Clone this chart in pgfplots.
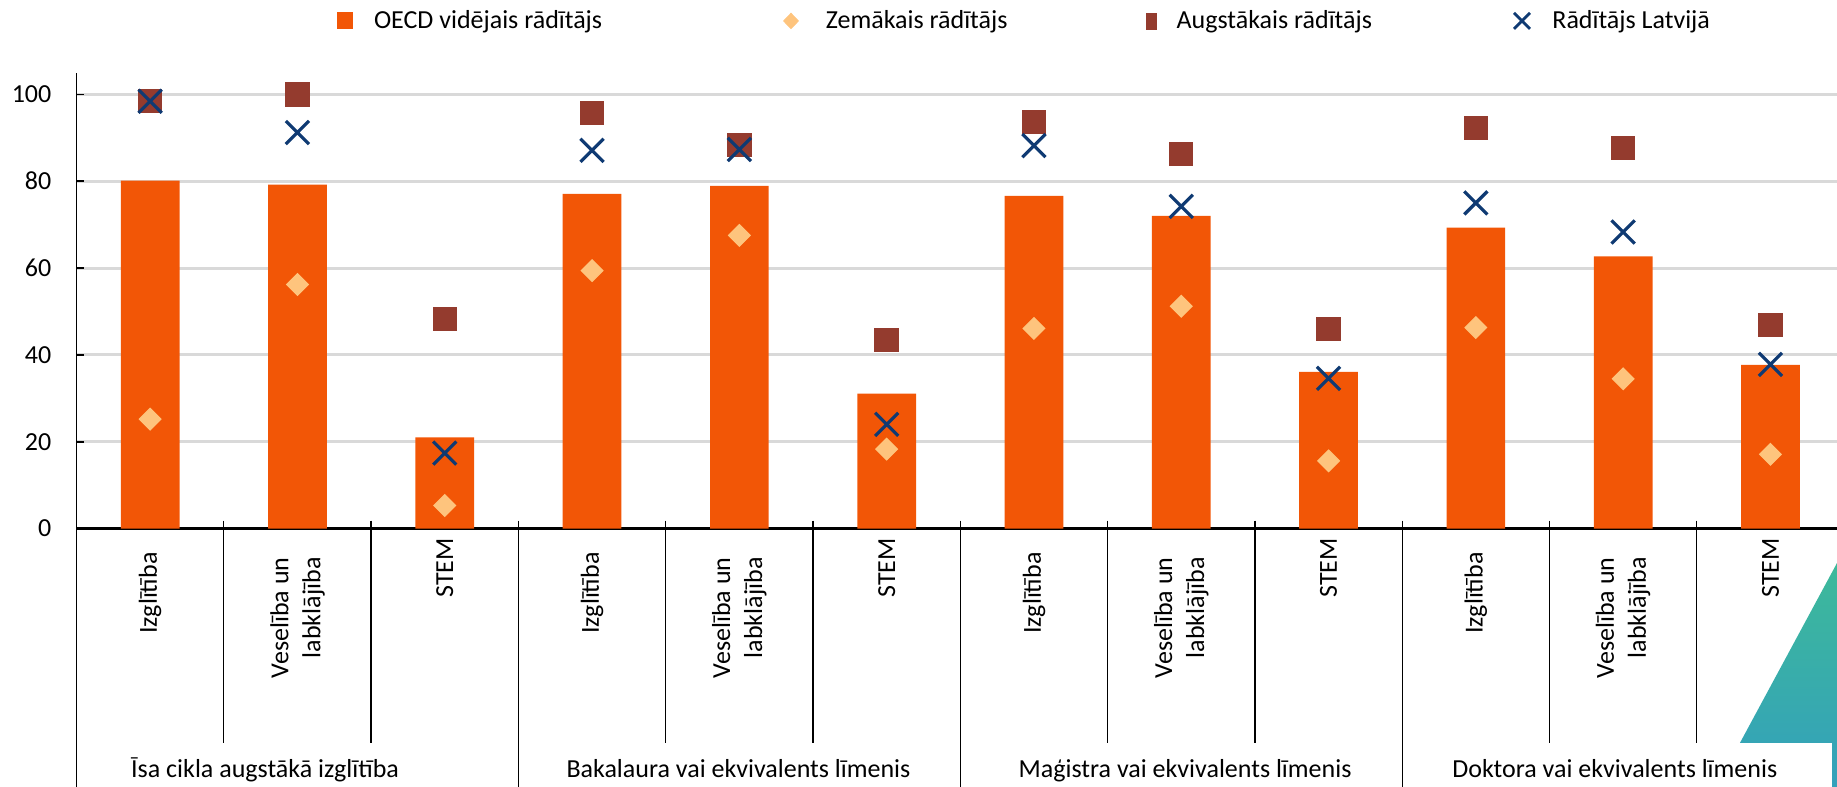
\documentclass[border=0pt]{standalone}
\usepackage{pgfplots}
\usepackage{pgfplotstable}
\pgfplotsset{compat=1.18}
\usepackage{fontspec}
\setmainfont{Carlito}
\definecolor{oecd}{HTML}{F25606}
\definecolor{lowc}{HTML}{FEC47D}
\definecolor{highc}{HTML}{943B2E}
\definecolor{lvc}{HTML}{0F3A73}
\definecolor{gridc}{HTML}{D9D9D9}
\definecolor{triA}{HTML}{3DB99A}
\definecolor{triB}{HTML}{33A0BC}
\newcommand\ff{\fontsize{13}{16}\selectfont}

\pgfplotstableread{
x oecd low high lv
0 80.1 25.2 98.5 98.4
1 79.2 56.2 100.0 91.2
2 21.0 5.3 48.2 17.4
3 77.1 59.4 95.7 87.1
4 78.9 67.5 88.3 87.3
5 31.1 18.3 43.4 24.0
6 76.6 46.1 93.6 88.2
7 72.0 51.2 86.2 74.2
8 36.1 15.6 45.9 34.6
9 69.3 46.3 92.2 75.0
10 62.7 34.5 87.6 68.3
11 37.7 17.1 46.9 37.8
}\data

\begin{document}
\begin{tikzpicture}[x=1pt,y=1pt]
% decorative corner triangle
\shade[top color=triA, bottom color=triB] (918.5,112) -- (857,-2) -- (926,-2) -- (926,112) -- cycle;
\fill[white] (852,-2) rectangle (916,22);
\begin{axis}[
  at={(38.25pt,129.2pt)}, anchor=south west,
  scale only axis, width=883.8pt, height=228pt,
  xmin=-0.5, xmax=11.5, ymin=0, ymax=105,
  axis x line*=bottom, axis y line*=left,
  x axis line style={line width=1.1pt, black},
  y axis line style={line width=0.85pt, black},
  ytick={0,20,...,100},
  ymajorgrids, grid style={gridc, line width=1.5pt},
  tick align=inside, major tick length=4pt,
  ytick style={black, line width=0.8pt},
  xtick={0,...,11}, xtick style={draw=none},
  /pgf/number format/assume math mode=true,
  yticklabel style={font=\ff, anchor=east, inner sep=0pt, xshift=-12.4pt},
  xticklabel style={font=\ff, rotate=90, anchor=east, inner sep=0pt, align=right},
  xticklabel shift=4.7pt,
  xticklabels={
    {Izglītība\hspace*{7pt}}, {Veselība un\hspace*{9.5pt}\\labklājība\hspace*{9.5pt}}, STEM,
    {Izglītība\hspace*{7pt}}, {Veselība un\hspace*{9.5pt}\\labklājība\hspace*{9.5pt}}, STEM,
    {Izglītība\hspace*{7pt}}, {Veselība un\hspace*{9.5pt}\\labklājība\hspace*{9.5pt}}, STEM,
    {Izglītība\hspace*{7pt}}, {Veselība un\hspace*{9.5pt}\\labklājība\hspace*{9.5pt}}, STEM},
  clip=false,
  legend columns=4,
  legend cell align=left,
  legend style={at={(0.14494,1.1132)}, anchor=west, draw=none, fill=none,
    inner sep=0pt, outer sep=0pt, column sep=0pt, font=\ff,
    nodes={inner sep=0pt}},
]
\addplot[ybar, bar width=29.35pt, fill=oecd, draw=none,
  legend image code/.code={\fill[oecd] (-4.1pt,-4.25pt) rectangle (4.1pt,4.25pt); \path (-6pt,0pt) (14.65pt,0pt);}]
  table[x=x,y=oecd]{\data};
\addlegendentry{\makebox[202.3pt][l]{OECD vidējais rādītājs}}
\addplot[only marks, mark=square*, mark size=3.8pt,
  mark options={rotate=45, draw=lowc, fill=lowc, line width=0.6pt},
  legend image code/.code={\fill[lowc] (0pt,-3.85pt) -- (3.7pt,0pt) -- (0pt,3.85pt) -- (-3.7pt,0pt) -- cycle; \path (-6pt,0pt) (17.2pt,0pt);}]
  table[x=x,y=low]{\data};
\addlegendentry{\makebox[156.5pt][l]{Zemākais rādītājs}}
\addplot[only marks, mark=square*, mark size=5.7pt,
  mark options={draw=highc, fill=highc, line width=0.8pt},
  legend image code/.code={\fill[highc] (-2.65pt,-4pt) rectangle (2.65pt,4pt); \path (-6pt,0pt) (12.5pt,0pt);}]
  table[x=x,y=high]{\data};
\addlegendentry{\makebox[166.5pt][l]{Augstākais rādītājs}}
\addplot[only marks, mark=x, mark size=8.2pt, color=lvc,
  mark options={line width=1.6pt, solid},
  legend image code/.code={\draw[lvc, line width=1.4pt] (-4pt,-4pt) -- (4pt,4pt) (-4pt,4pt) -- (4pt,-4pt); \path (-6pt,0pt) (15pt,0pt);}]
  table[x=x,y=lv]{\data};
\addlegendentry{Rādītājs Latvijā}
% category separators
\pgfplotsinvokeforeach{0.5,1.5,3.5,4.5,6.5,7.5,9.5,10.5}{
  \draw[black, line width=0.65pt] (axis cs:#1,1.84) -- (axis cs:#1,-49.37);
}
\pgfplotsinvokeforeach{2.5,5.5,8.5}{
  \draw[black, line width=0.65pt] (axis cs:#1,1.84) -- (axis cs:#1,-62);
}
\draw[black, line width=0.85pt] (axis cs:-0.5,0) -- (axis cs:-0.5,-62);
% group labels
\node[font=\ff, anchor=base] at (axis cs:0.78,-57.4) {Īsa cikla augstākā izglītība};
\node[font=\ff, anchor=base] at (axis cs:3.994,-57.4) {Bakalaura vai ekvivalents līmenis};
\node[font=\ff, anchor=base] at (axis cs:7.026,-57.4) {Maģistra vai ekvivalents līmenis};
\node[font=\ff, anchor=base] at (axis cs:9.943,-57.4) {Doktora vai ekvivalents līmenis};
\end{axis}
\pgfresetboundingbox
\useasboundingbox (0,0) rectangle (918.5,393.5);
\end{tikzpicture}
\end{document}
